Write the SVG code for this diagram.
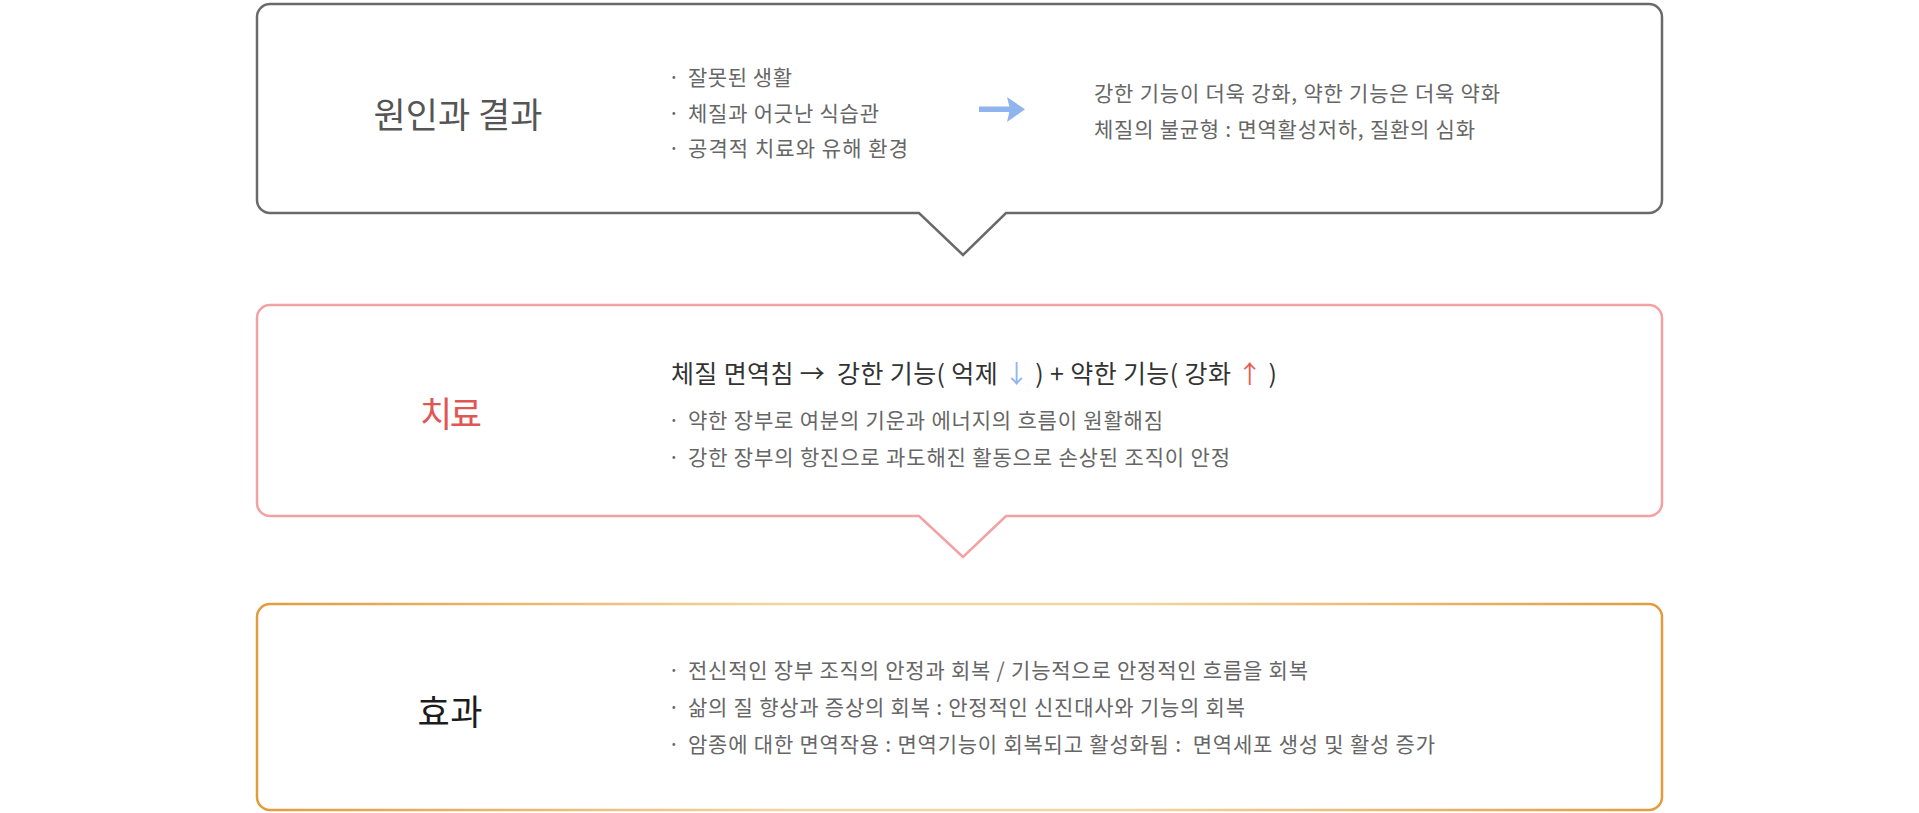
<svg xmlns="http://www.w3.org/2000/svg" width="1919" height="813" viewBox="0 0 1919 813">
<defs>
<style>
text{font-family:"Noto Sans CJK KR","Noto Sans",sans-serif;dominant-baseline:central}
.title{font-size:35px;text-anchor:middle}
.b{font-size:21px;fill:#666}
.box{fill:#fff;stroke-width:2.5}
</style>
<linearGradient id="gold" gradientUnits="userSpaceOnUse" x1="257" y1="0" x2="1662" y2="0">
<stop offset="0" stop-color="#e29b3c"/>
<stop offset="0.38" stop-color="#f2d6a0"/>
<stop offset="0.62" stop-color="#f2d6a0"/>
<stop offset="1" stop-color="#e29b3c"/>
</linearGradient>
</defs>
<rect width="1919" height="813" fill="#fff"/>

<g id="node-cause">
<path class="box" stroke="#6a6a6a" d="M270 4 H1649 A13 13 0 0 1 1662 17 V200 A13 13 0 0 1 1649 213 H1006 L963 255 L919 213 H270 A13 13 0 0 1 257 200 V17 A13 13 0 0 1 270 4 Z"/>
<text class="title" x="458" y="112" fill="#555" textLength="169" lengthAdjust="spacing">원인과 결과</text>
<text class="b" x="668" y="76">·</text>
<text class="b" x="688" y="76" textLength="104" lengthAdjust="spacing">잘못된 생활</text>
<text class="b" x="668" y="112">·</text>
<text class="b" x="688" y="112" textLength="191" lengthAdjust="spacing">체질과 어긋난 식습관</text>
<text class="b" x="668" y="147">·</text>
<text class="b" x="688" y="147" textLength="220" lengthAdjust="spacing">공격적 치료와 유해 환경</text>
<g fill="#8fb4ee">
<rect x="979" y="106.5" width="33" height="5.5"/>
<path d="M1007 97 L1025 109.3 L1007 122 L1010 109.3 Z"/>
</g>
<text class="b" x="1094" y="92" textLength="406" lengthAdjust="spacing">강한 기능이 더욱 강화, 약한 기능은 더욱 약화</text>
<text class="b" x="1094" y="128" textLength="381" lengthAdjust="spacing">체질의 불균형 : 면역활성저하, 질환의 심화</text>
</g>

<g id="node-treatment">
<path class="box" stroke="#f4a1a4" d="M270 305 H1649 A13 13 0 0 1 1662 318 V503 A13 13 0 0 1 1649 516 H1006 L963 557 L919 516 H270 A13 13 0 0 1 257 503 V318 A13 13 0 0 1 270 305 Z"/>
<text class="title" x="451" y="411" fill="#e25555" textLength="62" lengthAdjust="spacing">치료</text>
<text x="671" y="372" font-size="25" fill="#333" textLength="606" lengthAdjust="spacing" xml:space="preserve">체질 면역침 →  강한 기능( 억제 <tspan fill="#8fb4ee">↓</tspan> ) + 약한 기능( 강화 <tspan fill="#e5594f">↑</tspan> )</text>
<text class="b" x="668" y="419">·</text>
<text class="b" x="688" y="419" textLength="475" lengthAdjust="spacing">약한 장부로 여분의 기운과 에너지의 흐름이 원활해짐</text>
<text class="b" x="668" y="456">·</text>
<text class="b" x="688" y="456" textLength="542" lengthAdjust="spacing">강한 장부의 항진으로 과도해진 활동으로 손상된 조직이 안정</text>
</g>

<g id="node-effect">
<rect class="box" stroke="url(#gold)" x="257" y="604" width="1405" height="206" rx="13" ry="13"/>
<text class="title" x="450" y="709" fill="#1c1c1c" textLength="65" lengthAdjust="spacing">효과</text>
<text class="b" x="668" y="669">·</text>
<text class="b" x="688" y="669" textLength="620" lengthAdjust="spacing">전신적인 장부 조직의 안정과 회복 / 기능적으로 안정적인 흐름을 회복</text>
<text class="b" x="668" y="706">·</text>
<text class="b" x="688" y="706" textLength="557" lengthAdjust="spacing">삶의 질 향상과 증상의 회복 : 안정적인 신진대사와 기능의 회복</text>
<text class="b" x="668" y="743">·</text>
<text class="b" x="688" y="743" textLength="747" lengthAdjust="spacing" xml:space="preserve">암종에 대한 면역작용 : 면역기능이 회복되고 활성화됨 :  면역세포 생성 및 활성 증가</text>
</g>

<g id="connectors"></g>
</svg>
